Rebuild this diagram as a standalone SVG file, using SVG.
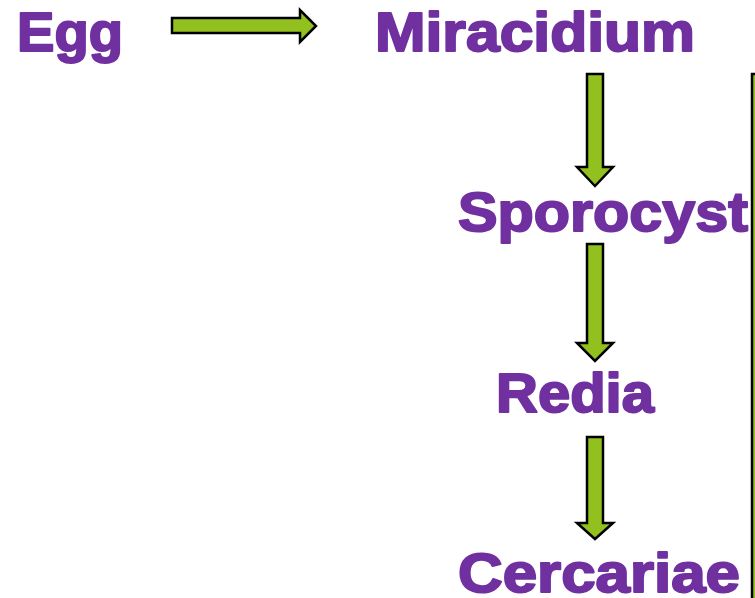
<svg xmlns="http://www.w3.org/2000/svg" width="755" height="598" viewBox="0 0 755 598">
<style>
.lbl{font-family:"Liberation Sans",Arial,sans-serif;font-weight:bold;font-size:55px;fill:#7030A0;stroke:#7030A0;stroke-width:2px;stroke-linejoin:round}
.arr{fill:#92C01F;stroke:#000;stroke-width:2.5;stroke-linejoin:miter}
</style>
<rect width="755" height="598" fill="#fff"/>
<g id="egg"><text class="lbl" x="17" y="51" textLength="106" lengthAdjust="spacingAndGlyphs">Egg</text></g>
<g id="miracidium"><text class="lbl" x="375" y="51" textLength="320" lengthAdjust="spacingAndGlyphs">Miracidium</text></g>
<g id="sporocyst"><text class="lbl" x="458" y="231" textLength="290" lengthAdjust="spacingAndGlyphs">Sporocyst</text></g>
<g id="redia"><text class="lbl" x="496" y="412" textLength="158" lengthAdjust="spacingAndGlyphs">Redia</text></g>
<g id="cercariae"><text class="lbl" x="458" y="592" textLength="282" lengthAdjust="spacingAndGlyphs">Cercariae</text></g>
<g id="connectors">
<polygon class="arr" points="172,18 300,18 300,10 316,26 300,42 300,33 172,33"/>
<polygon class="arr" points="587,74 603,74 603,167 613,167 595,186 577,167 587,167"/>
<polygon class="arr" points="587,244 603,244 603,343 613,343 595,361 577,343 587,343"/>
<polygon class="arr" points="587,437 603,437 603,523 613,523 595,539 577,523 587,523"/>
<rect class="arr" x="752" y="74" width="12" height="540"/>
</g>
</svg>
